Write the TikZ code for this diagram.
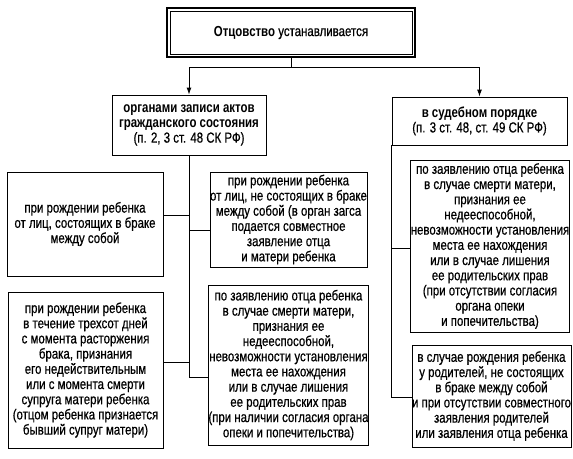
\documentclass[tikz,border=0pt]{standalone}
\usepackage{fontspec}
\setmainfont{Liberation Sans}[FakeStretch=0.79,UprightFeatures={FakeBold=0.6}]
\usetikzlibrary{arrows.meta}
\begin{document}
\begin{tikzpicture}[x=1pt,y=-1pt,
  box/.style={draw,line width=0.9pt,align=center,inner sep=0pt,
    font=\fontsize{14.5}{15.2}\selectfont},
  conn/.style={line width=0.9pt},
  arr/.style={line width=0.9pt,-{Latex[length=7pt,width=5pt]}}]
\useasboundingbox (0,0) rectangle (573,458);
% top box with double frame
\node[box,line width=1.8pt,minimum width=248pt,minimum height=49pt] (top) at (291,32.5) {\textbf{Отцовство} устанавливается};
\draw[line width=0.6pt] ([shift={(4,-4)}]top.south west) rectangle ([shift={(-4,4)}]top.north east);
% second level
\node[box,minimum width=154pt,minimum height=60pt] (L2) at (189,125)
  {\textbf{органами записи актов}\\\textbf{гражданского состояния}\\(п. 2, 3 ст. 48 СК РФ)};
\node[box,minimum width=175pt,minimum height=48pt] (R2) at (479.5,121)
  {\textbf{в судебном порядке}\\(п. 3 ст. 48, ст. 49 СК РФ)};
% leaves
\node[box,minimum width=156pt,minimum height=104pt] (B1) at (85,224)
  {при рождении ребенка\\от лиц, состоящих в браке\\между собой};
\node[box,minimum width=153pt,minimum height=95pt] (B2) at (288.5,219.5)
  {при рождении ребенка\\от лиц, не состоящих в браке\\между собой (в орган загса\\подается совместное\\заявление отца\\и матери ребенка};
\node[box,minimum width=153pt,minimum height=160pt] (B3) at (288.5,365)
  {по заявлению отца ребенка\\в случае смерти матери,\\признания ее\\недееспособной,\\невозможности установления\\места ее нахождения\\или в случае лишения\\ее родительских прав\\(при наличии согласия органа\\опеки и попечительства)};
\node[box,minimum width=155pt,minimum height=156pt] (B4) at (85.5,370)
  {при рождении ребенка\\в течение трехсот дней\\с момента расторжения\\брака, признания\\его недействительным\\или с момента смерти\\супруга матери ребенка\\(отцом ребенка признается\\бывший супруг матери)};
\node[box,minimum width=154pt,minimum height=172pt] (B5) at (490,246)
  {по заявлению отца ребенка\\в случае смерти матери,\\признания ее\\недееспособной,\\невозможности установления\\места ее нахождения\\или в случае лишения\\ее родительских прав\\(при отсутствии согласия\\органа опеки\\и попечительства)};
\node[box,minimum width=157pt,minimum height=102pt] (B6) at (491.5,396)
  {в случае рождения ребенка\\у родителей, не состоящих\\в браке между собой\\и при отсутствии совместного\\заявления родителей\\или заявления отца ребенка};
% connectors from top
\coordinate (j) at (top.south |- 0,67);
\draw[conn] (top.south) -- (j);
\draw[arr] (j) -| (L2.north);
\draw[arr] (j) -| (R2.north);
% left trunk
\draw[conn] (L2.south) |- (B3.west |- 0,377);
\draw[conn] (B1.east |- 0,215) -- (L2.south |- 0,215);
\draw[conn] (L2.south |- 0,230) -- (B2.west |- 0,230);
\draw[conn] (B4.east |- 0,362) -- (L2.south |- 0,362);
% right trunk
\draw[conn] (R2.south west) |- (B6.west |- 0,397);
\draw[conn] (B5.west |- 0,248) -- (R2.south west |- 0,248);
\end{tikzpicture}
\end{document}
